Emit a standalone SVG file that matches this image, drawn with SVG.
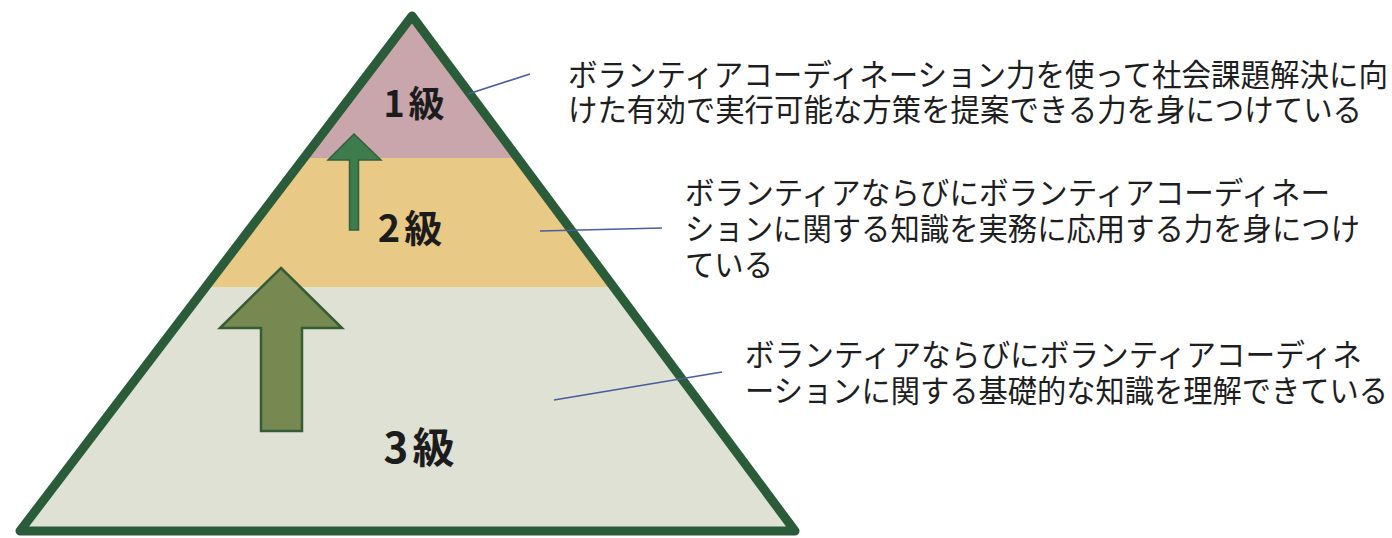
<svg xmlns="http://www.w3.org/2000/svg" width="1392" height="538" viewBox="0 0 1392 538">
<style>
.lvl{font-family:"Noto Sans CJK JP","Noto Sans",sans-serif;font-weight:700;fill:#1c1c1c;dominant-baseline:central;text-anchor:middle}
.desc{font-family:"Noto Sans CJK JP","Noto Sans",sans-serif;font-size:31px;fill:#1e1e1e;dominant-baseline:central}
.call{stroke:#4a5d9c;stroke-width:1.6;fill:none}
</style>
<defs>
<clipPath id="tri"><polygon points="412,16 20,531 795,531"/></clipPath>
</defs>
<rect width="1392" height="538" fill="#ffffff"/>
<g id="pyramid">
<g clip-path="url(#tri)">
<rect x="0" y="0" width="820" height="158" fill="#c9a6ab"/>
<rect x="0" y="158" width="820" height="129" fill="#e8c985"/>
<rect x="0" y="287" width="820" height="251" fill="#dfe1d4"/>
</g>
<polygon points="412,16 20,531 795,531" fill="none" stroke="#2b5c3a" stroke-width="9" stroke-linejoin="round"/>
</g>
<g id="arrows">
<polygon points="354,134 381,160 358.5,160 358.5,230 349.5,230 349.5,160 328,160" fill="#3f7c4d" stroke="#2f6040" stroke-width="1.5"/>
<polygon points="281,268 342,328 302,328 302,431 261,431 261,328 220,328" fill="#778850" stroke="#355c34" stroke-width="2.5" stroke-linejoin="miter"/>
</g>
<g id="level1"><text class="lvl" x="416" y="101" font-size="36" letter-spacing="4">1級</text></g>
<g id="level2"><text class="lvl" x="412" y="225" font-size="38" letter-spacing="4">2級</text></g>
<g id="level3"><text class="lvl" x="421" y="444" font-size="42" letter-spacing="4">3級</text></g>
<g id="connectors">
<line class="call" x1="468" y1="94" x2="530" y2="74"/>
<line class="call" x1="540" y1="231" x2="662" y2="228"/>
<line class="call" x1="554" y1="400" x2="722" y2="372"/>
</g>
<g id="desc1">
<text class="desc" x="568" y="72" textLength="820" lengthAdjust="spacingAndGlyphs">ボランティアコーディネーション力を使って社会課題解決に向</text>
<text class="desc" x="568" y="107" textLength="794" lengthAdjust="spacingAndGlyphs">けた有効で実行可能な方策を提案できる力を身につけている</text>
</g>
<g id="desc2">
<text class="desc" x="685" y="190" textLength="645" lengthAdjust="spacingAndGlyphs">ボランティアならびにボランティアコーディネー</text>
<text class="desc" x="685" y="226" textLength="675" lengthAdjust="spacingAndGlyphs">ションに関する知識を実務に応用する力を身につけ</text>
<text class="desc" x="685" y="262" textLength="88" lengthAdjust="spacingAndGlyphs">ている</text>
</g>
<g id="desc3">
<text class="desc" x="745" y="352" textLength="617" lengthAdjust="spacingAndGlyphs">ボランティアならびにボランティアコーディネ</text>
<text class="desc" x="745" y="388" textLength="643" lengthAdjust="spacingAndGlyphs">ーションに関する基礎的な知識を理解できている</text>
</g>
</svg>
